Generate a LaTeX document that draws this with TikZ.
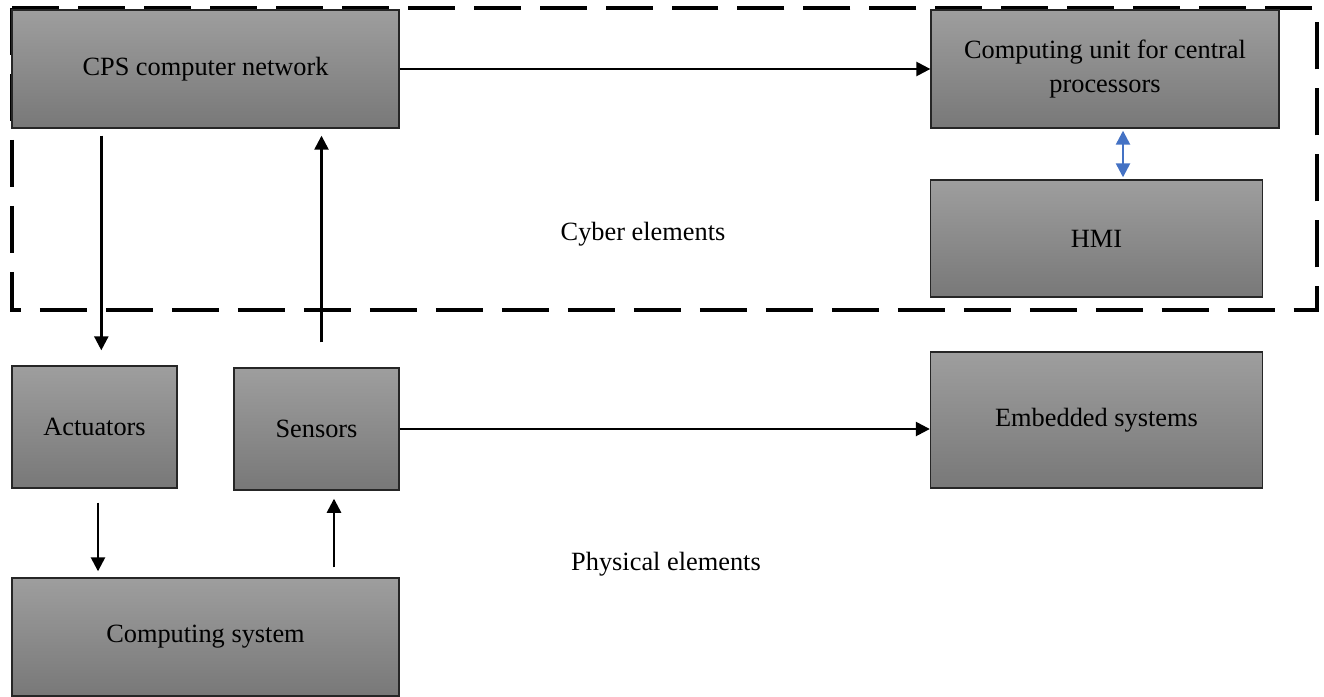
\documentclass[tikz,border=0pt]{standalone}
\usepackage{fontspec}
\setmainfont{Liberation Serif}
\usetikzlibrary{arrows.meta}
\definecolor{boxtop}{RGB}{158,158,158}
\definecolor{boxbottom}{RGB}{120,120,120}
\definecolor{linkblue}{RGB}{68,114,196}
\tikzset{%
	>={Triangle[width=8pt,length=8pt]},
	% Specifications for style of nodes:
	base/.style = {rectangle, draw=black!85, line width=0.8pt,
		top color=boxtop, bottom color=boxbottom,
		inner sep=0pt, text centered, font=\fontsize{15}{19}\selectfont},
	process/.style = {base, minimum width=7.74cm, minimum height=2.36cm},
	smallbox/.style = {base, minimum width=3.3cm, minimum height=2.44cm},
	wide/.style = {base, minimum width=6.64cm},
	zone/.style = {draw=black, line width=2.3pt, dash pattern=on 0.94cm off 0.38cm},
	link/.style = {->, line width=1.4pt},
}

\begin{document}
\begin{tikzpicture}[x=0.02cm, y=-0.02cm, align=center]
		\useasboundingbox (0,0) rectangle (1324,696);
		% cyber part frame
		\draw[zone] (12,8) rectangle (1317,310);
		% Specification of nodes (position, etc.)
		\node (cps) [process]                          at (205.5,69)   {CPS computer network};
		\node (cpu) [base, minimum width=6.96cm, minimum height=2.36cm] at (1105,69) {Computing unit for central\\processors};
		\node (hmi) [wide, minimum height=2.34cm]     at (1096.5,238.5) {HMI};
		\node (act) [smallbox]                         at (94.5,427)   {Actuators};
		\node (sen) [smallbox]                         at (316.5,429)  {Sensors};
		\node (emb) [wide, minimum height=2.72cm]      at (1096.5,420) {Embedded systems};
		\node (sys) [process]                          at (205.5,637)  {Computing system};
		\node (cyber)                                  at (643,234)    {\fontsize{15}{19}\selectfont Cyber elements};
		\node (physical)                               at (666,564)    {\fontsize{15}{19}\selectfont Physical elements};
		\draw[link]                 (cps) -- (cpu);
		\draw[link]                 (sen.east) -- (sen.east -| emb.west);
		\draw[link, shorten <=0.14cm, shorten >=0.3cm] ([xshift=1.8cm]cps.south west) -- ([xshift=1.8cm]cps.south west |- act.north);
		\draw[link, shorten <=0.5cm, shorten >=0.14cm] ([xshift=0.1cm]sen.north) -- ([xshift=0.1cm]sen.north |- cps.south);
		\draw[link, shorten <=0.28cm, shorten >=0.12cm] ([xshift=0.07cm]act.south) -- ([xshift=0.07cm]act.south |- sys.north);
		\draw[link, shorten <=0.2cm, shorten >=0.16cm] ([xshift=0.35cm]sen.south |- sys.north) -- ([xshift=0.35cm]sen.south);
		\draw[<->, linkblue, line width=1.4pt, shorten <=0.04cm, shorten >=0.04cm] ([xshift=0.36cm]cpu.south) -- ([xshift=0.36cm]cpu.south |- hmi.north);
	\end{tikzpicture}
\end{document}
